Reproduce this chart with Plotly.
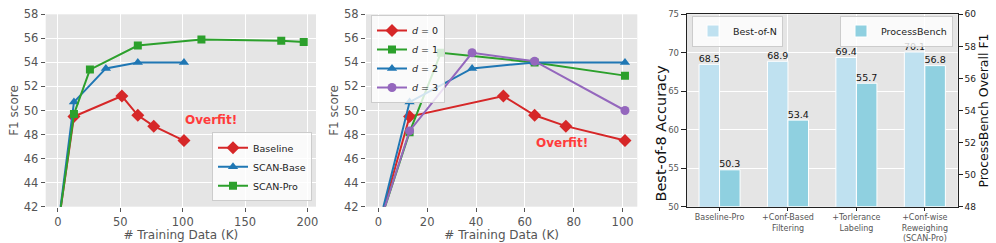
import plotly.graph_objects as go

# ---------------- data ----------------
# Panel 1
base_x = [0, 12.8, 51.2, 64, 76.8, 101]
base_y = [40.3, 49.5, 51.2, 49.6, 48.7, 47.5]
scanbase_x = [0, 12.8, 38.4, 64, 101]
scanbase_y = [40.3, 50.7, 53.5, 54.0, 54.0]
scanpro_x = [0, 12.8, 25.6, 64, 115, 179, 197]
scanpro_y = [40.3, 49.7, 53.4, 55.4, 55.9, 55.8, 55.7]

# Panel 2
d0_x = [0, 12.8, 51.2, 64, 76.8, 101]
d0_y = [40.3, 49.5, 51.2, 49.6, 48.7, 47.5]
d1_x = [0, 12.8, 25.6, 64, 101]
d1_y = [40.3, 48.2, 54.8, 54.0, 52.9]
d2_x = [0, 12.8, 38.4, 64, 101]
d2_y = [40.3, 50.7, 53.5, 54.0, 54.0]
d3_x = [0, 12.8, 38.4, 64, 101]
d3_y = [40.3, 48.3, 54.8, 54.1, 50.0]

# Panel 3
bar_cats = ["Baseline-Pro", "+Conf-Based<br>Filtering", "+Torlerance<br>Labeling",
            "+Conf-wise<br>Reweighing<br>(SCAN-Pro)"]
bon_vals = [68.5, 68.9, 69.4, 70.1]
pb_vals = [50.3, 53.4, 55.7, 56.8]

# ---------------- style ----------------
W, H = 996, 243
FONT = "DejaVu Sans"
RED, BLUE, GREEN, PURPLE = "#d62728", "#1f77b4", "#2ca02c", "#9467bd"
BG = "#e5e5e5"
GRAY = "#555555"
BAR_W = 0.3

def xd(a, b):
    return [a / W, b / W]

def yd(top, bottom):
    return [1 - bottom / H, 1 - top / H]

TOP, BOT = 14.3, 206.7

fig = go.Figure()

def line(x, y, name, color, symbol, size, xa, ya, legend):
    fig.add_trace(go.Scatter(
        x=x, y=y, name=name, mode="lines+markers",
        line=dict(color=color, width=2),
        marker=dict(color=color, symbol=symbol, size=size),
        xaxis=xa, yaxis=ya, legend=legend, cliponaxis=True))

line(base_x, base_y, "Baseline", RED, "diamond", 10, "x", "y", "legend")
line(scanbase_x, scanbase_y, "SCAN-Base", BLUE, "triangle-up", 9, "x", "y", "legend")
line(scanpro_x, scanpro_y, "SCAN-Pro", GREEN, "square", 8, "x", "y", "legend")

line(d0_x, d0_y, "<i>d</i> = 0", RED, "diamond", 10, "x2", "y2", "legend2")
line(d1_x, d1_y, "<i>d</i> = 1", GREEN, "square", 8, "x2", "y2", "legend2")
line(d2_x, d2_y, "<i>d</i> = 2", BLUE, "triangle-up", 9, "x2", "y2", "legend2")
line(d3_x, d3_y, "<i>d</i> = 3", PURPLE, "circle", 9, "x2", "y2", "legend2")

pos = list(range(len(bar_cats)))
base_pb = 48
fig.add_trace(go.Bar(
    x=pos, y=bon_vals, name="Best-of-N", offset=-BAR_W, width=BAR_W,
    marker=dict(color="#bfe1f0", line=dict(color="white", width=1)),
    xaxis="x3", yaxis="y3", legend="legend3"))
fig.add_trace(go.Bar(
    x=pos, y=[v - base_pb for v in pb_vals], base=base_pb, name="ProcessBench",
    offset=0.0, width=BAR_W,
    marker=dict(color="#8fd0e0", line=dict(color="white", width=1)),
    xaxis="x3", yaxis="y4", legend="legend4"))

# value labels above the bars
fig.add_trace(go.Scatter(
    x=[p - BAR_W / 2 for p in pos], y=bon_vals, mode="text",
    text=[f"{v:.1f}" for v in bon_vals], textposition="top center",
    textfont=dict(size=9.5, color="#111", family=FONT), showlegend=False,
    cliponaxis=False, xaxis="x3", yaxis="y3", hoverinfo="skip"))
fig.add_trace(go.Scatter(
    x=[p + BAR_W / 2 for p in pos], y=pb_vals, mode="text",
    text=[f"{v:.1f}" for v in pb_vals], textposition="top center",
    textfont=dict(size=9.5, color="#111", family=FONT), showlegend=False,
    cliponaxis=False, xaxis="x3", yaxis="y4", hoverinfo="skip"))

common_ax = dict(showgrid=True, gridcolor="white", gridwidth=1, zeroline=False,
                 showline=False, ticks="outside", ticklen=4, tickcolor=GRAY,
                 tickfont=dict(size=11.5, color=GRAY, family=FONT), automargin=False)

legend_style = dict(bgcolor="rgba(255,255,255,0.8)", bordercolor="#cccccc", borderwidth=1,
                    font=dict(size=9.5, color="#222", family=FONT), tracegroupgap=0,
                    itemwidth=30)

fig.update_layout(
    width=W, height=H, margin=dict(l=0, r=0, t=0, b=0),
    paper_bgcolor="white", plot_bgcolor=BG,
    font=dict(family=FONT),
    barmode="overlay",
    xaxis=dict(domain=xd(45.7, 316), range=[-9.85, 206.85], tickvals=[0, 50, 100, 150, 200],
               title=dict(text="# Training Data (K)", font=dict(size=12, color=GRAY), standoff=3),
               anchor="y", **common_ax),
    yaxis=dict(domain=yd(TOP, BOT), range=[42, 58], tickvals=list(range(42, 59, 2)),
               title=dict(text="F1 score", font=dict(size=12, color=GRAY), standoff=2),
               anchor="x", **common_ax),
    xaxis2=dict(domain=xd(366, 637.3), range=[-5.05, 106.05], tickvals=[0, 20, 40, 60, 80, 100],
                title=dict(text="# Training Data (K)", font=dict(size=12, color=GRAY), standoff=3),
                anchor="y2", **common_ax),
    yaxis2=dict(domain=yd(TOP, BOT), range=[42, 58], tickvals=list(range(42, 59, 2)),
                title=dict(text="F1 score", font=dict(size=12, color=GRAY), standoff=2),
                anchor="x2", **common_ax),
    xaxis3=dict(domain=xd(686.7, 957.7), range=[-0.48, 3.48], tickvals=pos, ticktext=bar_cats,
                showgrid=True, gridcolor="white", zeroline=False,
                showline=True, linecolor="#222", linewidth=1, mirror=True,
                ticks="outside", ticklen=3, tickcolor="#222",
                tickfont=dict(size=8, color=GRAY, family=FONT), anchor="y3", automargin=False),
    yaxis3=dict(domain=yd(TOP, BOT), range=[50, 75], tickvals=[50, 55, 60, 65, 70, 75],
                showgrid=True, gridcolor="white", zeroline=False,
                showline=True, linecolor="#222", linewidth=1,
                ticks="outside", ticklen=5, tickcolor="#222",
                tickfont=dict(size=8.5, color=GRAY, family=FONT),
                anchor="x3", automargin=False),
    yaxis4=dict(domain=yd(TOP, BOT), range=[48, 60], tickvals=list(range(48, 61, 2)),
                overlaying="y3", side="right", showgrid=False, zeroline=False,
                showline=True, linecolor="#222", linewidth=1,
                ticks="outside", ticklen=4, tickcolor="#222",
                tickfont=dict(size=9, color="#222", family=FONT),
                title=dict(text="ProcessBench Overall F1", font=dict(size=12.5, color="#111"), standoff=2),
                anchor="x3", automargin=False),
    legend=dict(x=312 / W, y=1 - 201.3 / H, xanchor="right", yanchor="bottom", **legend_style),
    legend2=dict(x=371 / W, y=1 - 15 / H, xanchor="left", yanchor="top", **legend_style),
    legend3=dict(x=692 / W, y=1 - 15.5 / H, xanchor="left", yanchor="top", **legend_style),
    legend4=dict(x=953 / W, y=1 - 15.5 / H, xanchor="right", yanchor="top", **legend_style),
)

# left title of the bar panel (sits low in the reference)
fig.add_annotation(x=660 / W, y=1 - 133.5 / H, xref="paper", yref="paper",
                   xanchor="center", yanchor="middle", textangle=-90,
                   text="Best-of-8 Accuracy", showarrow=False,
                   font=dict(size=14.5, color="#111", family=FONT))

fig.add_annotation(x=100, y=49.2, xref="x", yref="y", xanchor="left", yanchor="middle",
                   text="<b>Overfit!</b>", showarrow=False,
                   font=dict(size=12, color="#ff3b3b", family=FONT))
fig.add_annotation(x=75.4, y=47.3, xref="x2", yref="y2", xanchor="center", yanchor="middle",
                   text="<b>Overfit!</b>", showarrow=False,
                   font=dict(size=12, color="#ff3b3b", family=FONT))

fig.write_html("out.html", config={"displayModeBar": False},
               post_script="document.body.style.margin='0';document.body.style.overflow='hidden';")
